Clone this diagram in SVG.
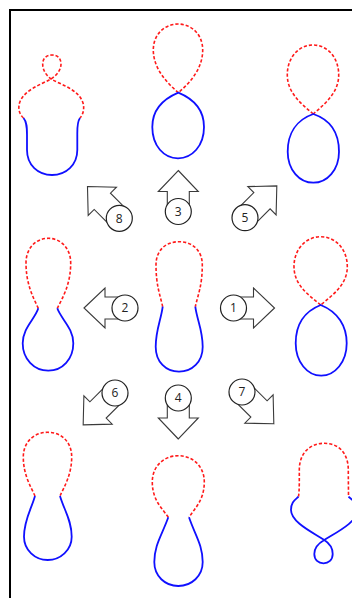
<svg xmlns="http://www.w3.org/2000/svg" xmlns:xlink="http://www.w3.org/1999/xlink" width="352" height="598" viewBox="0 0 352 598">
<style>
.red{fill:none;stroke:#ff1a1a;stroke-width:1.6;stroke-dasharray:3.2 2;stroke-linecap:butt;stroke-linejoin:round}
.blue{fill:none;stroke:#1010ff;stroke-width:1.8;stroke-linejoin:round}
.arr{fill:#ffffff;stroke:#3a3a3a;stroke-width:1.1;stroke-linejoin:miter}
.num circle{fill:#ffffff;stroke:#222;stroke-width:1.2}
.num text{font-family:"Open Sans","Liberation Sans",sans-serif;font-size:12px;fill:#222;text-anchor:middle}
</style>
<defs>
<path id="arrS" d="M0,-41 L20,-20 L11,-20 L11,0 L-11,0 L-11,-20 L-20,-20 Z"/>
<path id="arrD" d="M0,-45 L20,-24 L11.5,-24 L11.5,0 L-11.5,0 L-11.5,-24 L-20,-24 Z"/>
</defs>
<rect x="10" y="10" width="420" height="700" fill="none" stroke="#000" stroke-width="2"/>

<g id="shapeA">
<path class="red" d="M23.5,118 C19,114 18,108 19.5,103 C24,90 40,85 51,79 C57,75 61,70 61,64 C61,58 57,55 52,55 C47,55 42.7,58 42.7,64 C42.7,70 46,75 51,79 C62,85 79,90 83,103 C84.5,108 83.5,114 80,118"/>
<path class="blue" d="M23.5,118 C27,122 27,128 27,135 L27,150 C27,165 38,175 52,175 C66,175 77.3,165 77.3,150 L77.3,135 C77.3,128 77,122 80,118"/>
</g>
<g id="shapeB">
<path class="red" d="M178.3,92.7 C166,82 153.3,68 153.3,50 C153.3,34 165,24 178,24 C191,24 202.7,34 202.7,50 C202.7,68 191,82 178.3,92.7"/>
<path class="blue" d="M178.3,92.7 C196,100 204,112 204,127 C204,146 192,158.3 178,158.3 C164,158.3 152.3,146 152.3,127 C152.3,112 161,100 178.3,92.7 Z"/>
</g>
<g id="shapeC">
<path class="red" d="M313.3,114 C300,103 287.3,92 287.3,75 C287.3,57 299,45 313,45 C327,45 338.7,57 338.7,75 C338.7,92 326,103 313.3,114"/>
<path class="blue" d="M313.3,114 C331,120 339,134 339,151.7 C339,170 327,182.7 313.3,182.7 C299.6,182.7 287.7,170 287.7,151.7 C287.7,134 296,120 313.3,114 Z"/>
</g>
<g id="shapeD">
<path class="red" d="M38.3,308.3 C33,297 26,284 26,263 C26,248 36,238.3 48.3,238.3 C60.6,238.3 70.7,248 70.7,263 C70.7,284 63,297 57.3,308.3"/>
<path class="blue" d="M38.3,308.3 C35,319 22.7,328 22.7,343.3 C22.7,359 34,370.7 48.3,370.7 C62.6,370.7 73.3,359 73.3,343.3 C73.3,328 61,319 57.3,308.3"/>
</g>
<g id="shapeE">
<path class="red" d="M162.7,306.7 C160,295 156,285 156,265 C156,250 166,241.7 179,241.7 C192,241.7 202.3,250 202.3,265 C202.3,285 198,295 195.3,306.7"/>
<path class="blue" d="M162.7,306.7 C161,320 155.7,330 155.7,346.7 C155.7,362 166,371.7 179,371.7 C192,371.7 202.7,362 202.7,346.7 C202.7,330 197,320 195.3,306.7"/>
</g>
<g id="shapeF">
<path class="red" d="M320.7,305 C307,294 294,284 294,266.7 C294,249 306,236.7 320.7,236.7 C335.4,236.7 347.3,249 347.3,266.7 C347.3,284 334,294 320.7,305"/>
<path class="blue" d="M320.7,305 C338,312 346.7,326 346.7,343.3 C346.7,362 335,375.7 321.2,375.7 C307.4,375.7 295.7,362 295.7,343.3 C295.7,326 303,312 320.7,305 Z"/>
</g>
<g id="shapeG">
<path class="red" d="M35,496 C31,487 23.3,475 23.3,457 C23.3,442 34,432.3 47.7,432.3 C61.4,432.3 71.7,442 71.7,457 C71.7,475 64,487 60,496"/>
<path class="blue" d="M35,496 C31,510 24,520 24,536.7 C24,550 35,560 47.7,560 C60.4,560 71.7,550 71.7,536.7 C71.7,520 64,510 60,496"/>
</g>
<g id="shapeH">
<path class="red" d="M168.3,517.3 C162,508 152.3,500 152.3,482 C152.3,466 164,455.7 178.3,455.7 C192.6,455.7 204.3,466 204.3,482 C204.3,500 195,508 189,517.3"/>
<path class="blue" d="M168.3,517.3 C162,535 154.3,545 154.3,562 C154.3,576 165,586 178.3,586 C191.6,586 202.7,576 202.7,562 C202.7,545 195,535 189,517.3"/>
</g>
<g id="shapeI">
<path class="red" d="M298.5,496.7 C299.5,490 299.3,480 299.3,470 C299.3,453 310,443.3 324.3,443.3 C338.6,443.3 348.3,453 348.3,470 C348.3,480 348.5,490 348.5,496.7"/>
<path class="blue" d="M298.5,496.7 C295,500 291,502 291,510 C291,522 312,532 324.3,540 C329,543 332.7,548 332.7,554 C332.7,560 328.5,563.3 323.5,563.3 C318.5,563.3 314.3,560 314.3,554 C314.3,548 319,543 324.3,540 C337,532 357.5,522 357.5,510 C357.5,502 352,500 348.5,496.7"/>
</g>

<g id="connectors">
<use xlink:href="#arrS" class="arr" transform="translate(233.5,308) rotate(90)"/>
<use xlink:href="#arrS" class="arr" transform="translate(125,308) rotate(-90)"/>
<use xlink:href="#arrS" class="arr" transform="translate(178.3,211.5)"/>
<use xlink:href="#arrS" class="arr" transform="translate(178.3,398) rotate(180)"/>
<use xlink:href="#arrD" class="arr" transform="translate(245,217.7) rotate(45)"/>
<use xlink:href="#arrD" class="arr" transform="translate(115,393) rotate(-135)"/>
<use xlink:href="#arrD" class="arr" transform="translate(242,392) rotate(135)"/>
<use xlink:href="#arrD" class="arr" transform="translate(119.3,218.3) rotate(-45)"/>
</g>

<g id="label1" class="num"><circle cx="233.5" cy="308" r="13"/><text x="233.5" y="312.3">1</text></g>
<g id="label2" class="num"><circle cx="125" cy="308" r="13"/><text x="125" y="312.3">2</text></g>
<g id="label3" class="num"><circle cx="178.3" cy="211.5" r="13"/><text x="178.3" y="215.8">3</text></g>
<g id="label4" class="num"><circle cx="178.3" cy="398" r="13"/><text x="178.3" y="402.3">4</text></g>
<g id="label5" class="num"><circle cx="245" cy="217.7" r="13"/><text x="245" y="222">5</text></g>
<g id="label6" class="num"><circle cx="115" cy="393" r="13"/><text x="115" y="397.3">6</text></g>
<g id="label7" class="num"><circle cx="242" cy="392" r="13"/><text x="242" y="396.3">7</text></g>
<g id="label8" class="num"><circle cx="119.3" cy="218.3" r="13"/><text x="119.3" y="222.6">8</text></g>
</svg>
